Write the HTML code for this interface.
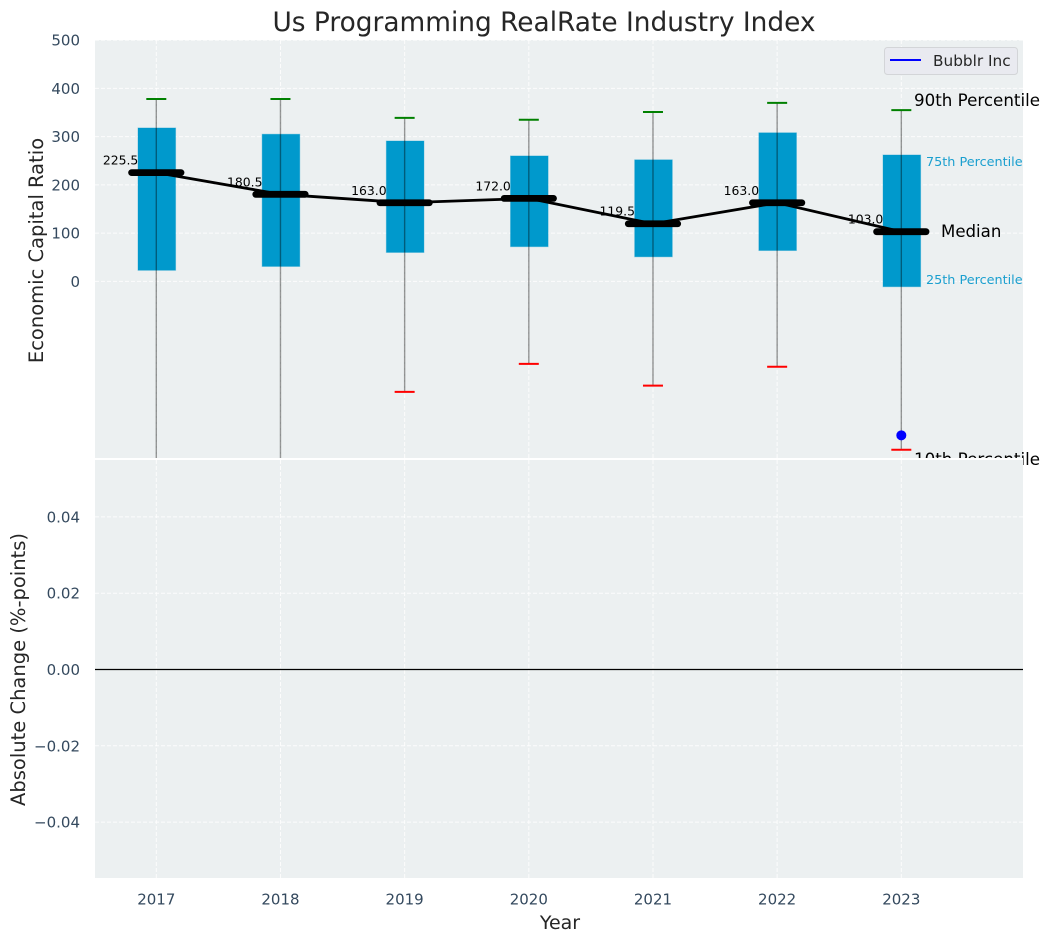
<!DOCTYPE html>
<html lang="en">
<head>
<meta charset="utf-8">
<title>Us Programming RealRate Industry Index</title>
<style>
html,body{margin:0;padding:0;background:#fff;width:1049px;height:942px;overflow:hidden}
svg{display:block;font-family:"DejaVu Sans","Liberation Sans",sans-serif}
</style>
</head>
<body>
<svg id="chart" xmlns="http://www.w3.org/2000/svg" width="1049" height="942" viewBox="0 0 1049 942">
  <defs>
    <clipPath id="top-clip"><rect x="95" y="40" width="928" height="418"/></clipPath>
  </defs>
  <text x="544" y="31" font-size="26.4" fill="#262626" text-anchor="middle">Us Programming RealRate Industry Index</text>
  <rect x="95" y="40" width="928" height="418" fill="#ecf0f1"/>
  <g id="top-grid"></g>
  <g id="top-ticks"></g>
  <g id="annotations"></g>
  <g id="marks" clip-path="url(#top-clip)"></g>
  <g id="side-labels">
    <text x="914" y="106" font-size="16.7" fill="#000">90th Percentile</text>
    <text x="926" y="166" font-size="12.8" fill="#1a9fcf">75th Percentile</text>
    <text x="941" y="237" font-size="16.6" fill="#000">Median</text>
    <text x="926" y="284" font-size="12.8" fill="#1a9fcf">25th Percentile</text>
    <text x="914" y="465" font-size="16.7" fill="#000">10th Percentile</text>
  </g>
  <g>
    <rect x="884.5" y="47.5" width="133" height="27" rx="3" fill="#e9eaf0" stroke="#d3d5d8" stroke-width="1"/>
    <line x1="890" y1="60" x2="921" y2="60" stroke="#0000ff" stroke-width="2"/>
    <text x="933" y="66" font-size="15.3" fill="#262626">Bubblr Inc</text>
  </g>
  <rect x="95" y="458" width="928" height="420" fill="#ecf0f1"/>
  <line x1="95" y1="459" x2="1023" y2="459" stroke="#fff" stroke-width="2"/>
  <g id="bottom-grid"></g>
  <g id="bottom-ticks"></g>
  <g id="x-ticks"></g>
  <line id="zero-line" x1="95" x2="1023" stroke="#000" stroke-width="1.3"/>
  <text transform="translate(43,250.5) rotate(-90)" font-size="19.5" fill="#262626" text-anchor="middle">Economic Capital Ratio</text>
  <text transform="translate(25,669.5) rotate(-90)" font-size="19.5" fill="#262626" text-anchor="middle">Absolute Change (%-points)</text>
  <text x="560" y="929" font-size="19" fill="#262626" text-anchor="middle">Year</text>
</svg>
<script>
const years = [2017, 2018, 2019, 2020, 2021, 2022, 2023];
const p90 = [378, 378, 339, 335, 351, 370, 355];
const p75 = [318, 305, 291, 260, 252, 308, 262];
const medians = [225.5, 180.5, 163.0, 172.0, 119.5, 163.0, 103.0];
const p25 = [23, 31, 60, 72, 51, 64, -11];
const p10 = [-420, -420, -229, -171, -216, -177, -349];
const companyYears = [2023];
const companyValues = [-319];
const topTicks = [0, 100, 200, 300, 400, 500];
const bottomTicks = [-0.04, -0.02, 0.00, 0.02, 0.04];

const NS = 'http://www.w3.org/2000/svg';
const xScale = function (year) { return 156.3 + (year - 2017) * 124.17; };
const yTop = function (value) { return 281.4 - value * 0.4825; };
const yBottom = function (value) { return 669.5 - value * 3815; };

function make(tag, parent, attrs, text) {
  const el = document.createElementNS(NS, tag);
  Object.keys(attrs).forEach(function (k) { el.setAttribute(k, attrs[k]); });
  if (text !== undefined) el.textContent = text;
  parent.appendChild(el);
  return el;
}

const topGrid = document.getElementById('top-grid');
const bottomGrid = document.getElementById('bottom-grid');
const topTickGroup = document.getElementById('top-ticks');
const bottomTickGroup = document.getElementById('bottom-ticks');
const xTickGroup = document.getElementById('x-ticks');
const annotations = document.getElementById('annotations');
const marks = document.getElementById('marks');
const gridStyle = { stroke: '#ffffff', 'stroke-width': 1, 'stroke-dasharray': '4 2', opacity: 0.85 };

topTicks.forEach(function (t) {
  const y = yTop(t);
  const g = make('line', topGrid, Object.assign({ x1: 95, x2: 1023, y1: y, y2: y }, gridStyle));
  
  
  const l = make('text', topTickGroup, { x: 80, y: y + 5.5, 'font-size': 15, fill: '#34495e', 'text-anchor': 'end' }, String(t));
  
  
});

bottomTicks.forEach(function (t) {
  const y = yBottom(t);
  const g = make('line', bottomGrid, Object.assign({ x1: 95, x2: 1023, y1: y, y2: y }, gridStyle));
  
  
  const txt = (t < 0 ? '\u2212' : '') + Math.abs(t).toFixed(2);
  const l = make('text', bottomTickGroup, { x: 80, y: y + 5.5, 'font-size': 15, fill: '#34495e', 'text-anchor': 'end' }, txt);
  
  
});

document.getElementById('zero-line').setAttribute('y1', yBottom(0));
document.getElementById('zero-line').setAttribute('y2', yBottom(0));

years.forEach(function (yr) {
  const x = xScale(yr);
  const a = make('line', topGrid, Object.assign({ x1: x, x2: x, y1: 40, y2: 458 }, gridStyle));
  
  
  const b = make('line', bottomGrid, Object.assign({ x1: x, x2: x, y1: 460, y2: 878 }, gridStyle));
  
  
  const l = make('text', xTickGroup, { x: x, y: 904.5, 'font-size': 15, fill: '#34495e', 'text-anchor': 'middle' }, String(yr));
  
  
});

years.forEach(function (yr, i) {
  const x = xScale(yr);
  const label = make('text', annotations, { x: x - 18, y: yTop(medians[i]) - 8, 'font-size': 12.4, fill: '#000', 'text-anchor': 'end' }, medians[i].toFixed(1));
  
  

  const box = make('rect', marks, { x: x - 18.3, y: yTop(p75[i]), width: 37.6, height: yTop(p25[i]) - yTop(p75[i]), fill: '#0099cc', stroke: '#0099cc', 'stroke-opacity': 0.35, 'stroke-width': 1 });
  
  

  const whisker = make('line', marks, { x1: x, x2: x, y1: yTop(p90[i]), y2: yTop(p10[i]), stroke: '#000', 'stroke-opacity': 0.4, 'stroke-width': 1.4 });
  
  

  const capHigh = make('line', marks, { x1: x - 10, x2: x + 10, y1: yTop(p90[i]), y2: yTop(p90[i]), stroke: '#008000', 'stroke-width': 2 });
  
  

  const capLow = make('line', marks, { x1: x - 10, x2: x + 10, y1: yTop(p10[i]), y2: yTop(p10[i]), stroke: '#ff0000', 'stroke-width': 2 });
  
  
});

const medianPoints = years.map(function (yr, i) { return xScale(yr) + ',' + yTop(medians[i]); }).join(' ');
const medianLine = make('polyline', marks, { points: medianPoints, fill: 'none', stroke: '#000', 'stroke-width': 2.8 });



years.forEach(function (yr, i) {
  const x = xScale(yr);
  const bar = make('line', marks, { x1: x - 24.7, x2: x + 24.7, y1: yTop(medians[i]), y2: yTop(medians[i]), stroke: '#000', 'stroke-width': 6.8, 'stroke-linecap': 'round' });
  
  
});

companyYears.forEach(function (yr, i) {
  const dot = make('circle', marks, { cx: xScale(yr), cy: yTop(companyValues[i]), r: 5, fill: '#0000ff' });
  
  
});
</script>
</body>
</html>
